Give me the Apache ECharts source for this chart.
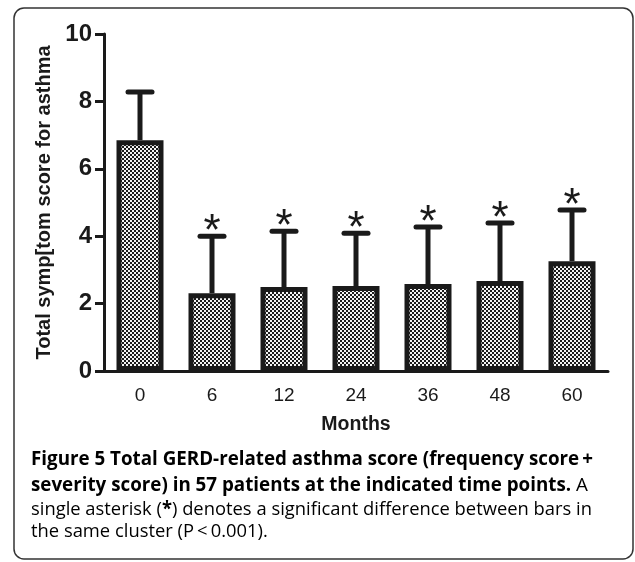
<!DOCTYPE html>
<html>
<head>
<meta charset="utf-8">
<script src="https://cdn.jsdelivr.net/npm/echarts@6/dist/echarts.min.js"></script>
<style>html,body{margin:0;padding:0;background:#fff;}#c{width:635px;height:562px;}</style>
</head>
<body>
<div id="c"></div>
<script>
// ---- data ----
const months = ['0', '6', '12', '24', '36', '48', '60'];
const meanScore = [6.85, 2.31, 2.49, 2.52, 2.58, 2.67, 3.26];
const upperError = [8.28, 4.0, 4.15, 4.09, 4.27, 4.39, 4.78];
const significant = [false, true, true, true, true, true, true];
const yTicks = [0, 2, 4, 6, 8, 10];

const yTitle = 'Total symp[tom score for asthma';
const xTitle = 'Months';
const captionLine1 = 'Figure 5 Total GERD-related asthma score (frequency score\u2009+';
const captionLine2a = 'severity score) in 57 patients at the indicated time points.';
const captionLine2b = ' A';
const captionLine3a = 'single asterisk (';
const captionLine3b = '*';
const captionLine3c = ') denotes a significant difference between bars in';
const captionLine4 = 'the same cluster (P\u2009<\u20090.001).';

// ---- pattern ----
const pat = document.createElement('canvas');
pat.width = 4; pat.height = 4;
const pctx = pat.getContext('2d');
pctx.fillStyle = '#f4f4f4'; pctx.fillRect(0, 0, 4, 4);
pctx.fillStyle = '#1c1c1c';
pctx.fillRect(0, 0, 2, 2); pctx.fillRect(2, 2, 2, 2);

// ---- caption scaling ----
const capFont = '"Open Sans", "Noto Sans", sans-serif';
const capSize = 19;
const mc = document.createElement('canvas').getContext('2d');
mc.font = 'bold ' + capSize + 'px ' + capFont;
const w1 = mc.measureText(captionLine1).width;
const boldScale = 562 / w1;
mc.font = capSize + 'px ' + capFont;
const w3 = mc.measureText(captionLine3a + captionLine3c).width;
mc.font = 'bold ' + capSize + 'px ' + capFont;
const w3b = mc.measureText(captionLine3b).width;
const normScale = 561 / (w3 + w3b);

const chart = echarts.init(document.getElementById('c'), null, {renderer: 'canvas'});
const axisFont = '"Liberation Sans", Arial, sans-serif';
const ink = '#1a1a1a';

const errData = months.map((m, i) => [i, meanScore[i], upperError[i], significant[i] ? 1 : 0]);

const rich = {
  b: {fontFamily: capFont, fontSize: capSize, fontWeight: 'bold', color: '#231f20'},
  n: {fontFamily: capFont, fontSize: capSize, fontWeight: 'normal', color: '#3a3a3a'}
};

chart.setOption({
  animation: false,
  backgroundColor: '#fff',
  grid: {left: 104, right: 27, top: 34, bottom: 191, containLabel: false},
  xAxis: {
    type: 'category', data: months,
    name: xTitle, nameLocation: 'middle', nameGap: 44,
    nameTextStyle: {fontFamily: axisFont, fontWeight: 'bold', fontSize: 19.5, color: ink},
    axisLine: {lineStyle: {color: ink, width: 3}},
    axisTick: {alignWithLabel: true, length: 9, lineStyle: {color: ink, width: 3}},
    axisLabel: {fontFamily: axisFont, fontSize: 19, color: ink, margin: 15}
  },
  yAxis: {
    type: 'value', min: 0, max: 10, interval: 2,
    name: yTitle, nameLocation: 'middle', nameGap: 48,
    nameTextStyle: {fontFamily: axisFont, fontWeight: 'bold', fontSize: 20, color: ink},
    axisLine: {show: true, lineStyle: {color: ink, width: 3}},
    axisTick: {show: true, length: 9, lineStyle: {color: ink, width: 3}},
    splitLine: {show: false},
    axisLabel: {fontFamily: axisFont, fontWeight: 'bold', fontSize: 24, color: ink, margin: 12,
      formatter: v => yTicks.includes(v) ? String(v) : ''}
  },
  series: [
    {
      type: 'custom', z: 1,
      data: errData,
      renderItem: function (params, api) {
        const x = api.value(0);
        const p0 = api.coord([x, api.value(1)]);
        const p1 = api.coord([x, api.value(2)]);
        const children = [
          {type: 'line', shape: {x1: p0[0], y1: p0[1], x2: p1[0], y2: p1[1]}, style: {stroke: ink, lineWidth: 5}},
          {type: 'line', shape: {x1: p1[0] - 12, y1: p1[1], x2: p1[0] + 12, y2: p1[1]}, style: {stroke: ink, lineWidth: 5, lineCap: 'round'}}
        ];
        if (api.value(3)) {
          children.push({type: 'text', x: p1[0], y: p1[1] - 3,
            style: {text: '*', font: '44px ' + axisFont, fill: ink, align: 'center', verticalAlign: 'middle'}});
        }
        return {type: 'group', children: children};
      }
    },
    {
      type: 'bar', z: 2,
      data: meanScore,
      barWidth: 47,
      itemStyle: {color: {image: pat, repeat: 'repeat'}, borderColor: ink, borderWidth: 5}
    }
  ],
  graphic: [
    {type: 'rect', shape: {x: 14, y: 8, width: 619, height: 551, r: 10}, style: {fill: 'none', stroke: '#333', lineWidth: 1.5}, z: 0},
    {type: 'text', x: 31, y: 460, scaleX: boldScale, style: {text: '{b|' + captionLine1 + '}', rich: rich, verticalAlign: 'middle'}},
    {type: 'text', x: 31, y: 486, scaleX: boldScale, style: {text: '{b|' + captionLine2a + '}{n|' + captionLine2b + '}', rich: rich, verticalAlign: 'middle'}},
    {type: 'text', x: 31, y: 510, scaleX: normScale, style: {text: '{n|' + captionLine3a + '}{b|' + captionLine3b + '}{n|' + captionLine3c + '}', rich: rich, verticalAlign: 'middle'}},
    {type: 'text', x: 31, y: 532, scaleX: normScale, style: {text: '{n|' + captionLine4 + '}', rich: rich, verticalAlign: 'middle'}}
  ]
});
</script>
</body>
</html>
